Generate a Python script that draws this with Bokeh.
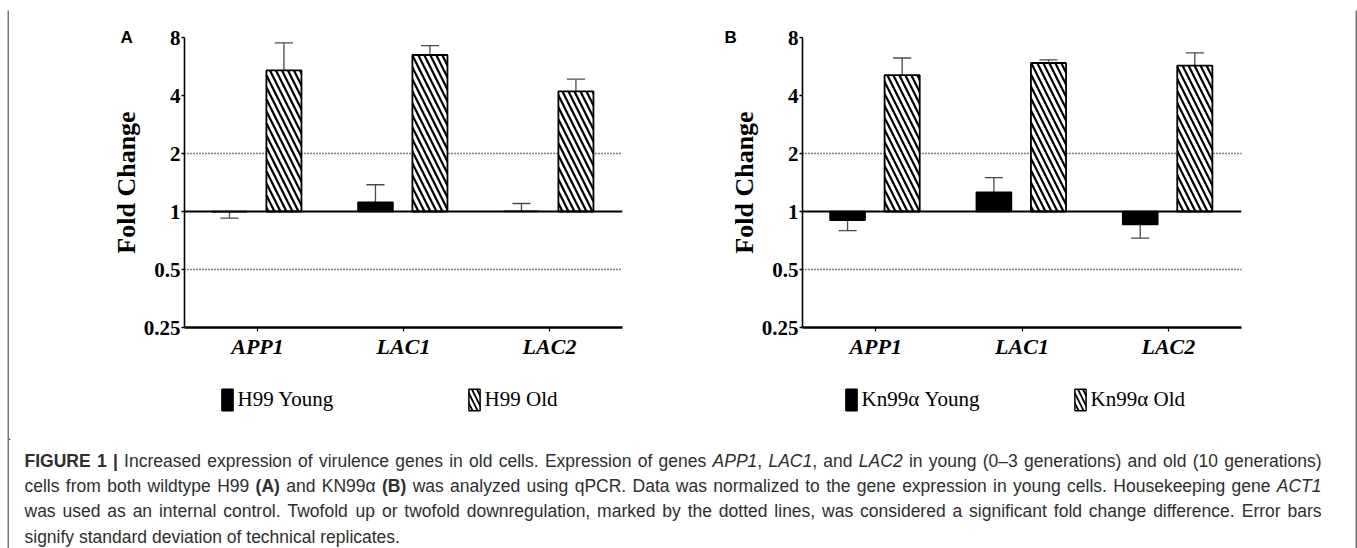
from bokeh.plotting import figure
from bokeh.models import (ColumnDataSource, FactorRange, Range1d, Span, Legend,
                          LegendItem, FixedTicker, CustomJSTickFormatter, Spacer)
from bokeh.transform import dodge
from bokeh.layouts import row, column
from bokeh.core.properties import value
from bokeh.embed import file_html
from bokeh.resources import INLINE

# ---------------- data ----------------
genes = ["APP1", "LAC1", "LAC2"]

h99_young = [0.997, 1.117, 1.003]
h99_young_sd = [0.073, 0.26, 0.097]
h99_old = [5.4, 6.49, 4.2]
h99_old_sd = [2.1, 0.77, 0.66]

kn_young = [0.90, 1.258, 0.857]
kn_young_sd = [0.105, 0.242, 0.129]
kn_old = [5.1, 5.9, 5.72]
kn_old_sd = [1.16, 0.23, 0.93]

tick_values = [0.25, 0.5, 1, 2, 4, 8]
tick_labels = ["0.25", "0.5", "1", "2", "4", "8"]
baseline = 1
thresholds = [2, 0.5]

y_title = "Fold Change"
legend_a = ["H99 Young", "H99 Old"]
legend_b = ["Kn99\u03b1 Young", "Kn99\u03b1 Old"]

caption_lines = [
    [("FIGURE 1 |", "bold"),
     (" Increased expression of virulence genes in old cells. Expression of genes ", "normal"),
     ("APP1", "italic"), (", ", "normal"), ("LAC1", "italic"), (", and ", "normal"),
     ("LAC2", "italic"), (" in young (0\u20133 generations) and old (10 generations)", "normal")],
    [("cells from both wildtype H99 ", "normal"), ("(A)", "bold"), (" and KN99\u03b1 ", "normal"),
     ("(B)", "bold"),
     (" was analyzed using qPCR. Data was normalized to the gene expression in young cells. Housekeeping gene ", "normal"),
     ("ACT1", "italic")],
    [("was used as an internal control. Twofold up or twofold downregulation, marked by the dotted lines, was considered a significant fold change difference. Error bars", "normal")],
    [("signify standard deviation of technical replicates.", "normal")],
]

# ---------------- styling / layout ----------------
SERIF = "Liberation Serif"
SANS = "Liberation Sans"
FRAME_GRAY = "#767676"
ERR_COLOR = "#4a4a4a"
YOUNG_OFF = -0.192
OLD_OFF = 0.181
BAR_W = 0.24
CAP_HALF = 0.062
HATCH_SCALE = 12
HATCH_WEIGHT = 2.2

TOTAL_W = 1357
TOTAL_H = 548
TOP_GAP = 10        # white space above the outer frame line
LEFT_GAP = 7        # white space left of the outer frame line
FRAME_T = 2         # frame line thickness
INNER_X = LEFT_GAP + FRAME_T          # 9
INNER_W = TOTAL_W - INNER_X - FRAME_T  # 1346
INNER_H = TOTAL_H - TOP_GAP - FRAME_T  # 536
ROW_H = 358         # chart row (y 12..370)
LEG_H = 70          # legend row (y 370..440)
CAP_H = INNER_H - ROW_H - LEG_H  # caption row (y 440..548)


def blank(width, height, fill="white"):
    p = figure(width=width, height=height, x_range=Range1d(0, width),
               y_range=Range1d(0, height), min_border=0, min_border_left=0,
               min_border_right=0, min_border_top=0, min_border_bottom=0,
               output_backend="svg", toolbar_location=None, tools="",
               x_axis_location=None, y_axis_location=None, frame_align=False)
    p.xgrid.visible = False
    p.ygrid.visible = False
    p.outline_line_color = None
    p.background_fill_color = fill
    p.border_fill_color = fill
    return p


def make_panel(letter, young, young_sd, old, old_sd, width, bl, br, letter_offset):
    young_end = [v + s if v >= baseline else v - s for v, s in zip(young, young_sd)]
    old_end = [v + s if v >= baseline else v - s for v, s in zip(old, old_sd)]
    src = ColumnDataSource(dict(gene=genes, young=young, old=old,
                                young_end=young_end, old_end=old_end))
    p = figure(x_range=FactorRange(factors=genes),
               y_range=Range1d(tick_values[0], tick_values[-1]),
               y_axis_type="log", width=width, height=ROW_H,
               min_border_left=bl, min_border_right=br, min_border_top=25,
               min_border_bottom=43,
               output_backend="svg", toolbar_location=None, tools="")
    p.xgrid.visible = False
    p.ygrid.visible = False
    p.outline_line_color = None
    p.background_fill_color = "white"
    p.border_fill_color = "white"

    # panel letter as the plot title, pulled left of the frame and down to its top edge
    p.title.text = letter
    p.title.align = "left"
    p.title.offset = letter_offset
    p.title.vertical_align = "bottom"
    p.title.standoff = -19
    p.title.text_font = SANS
    p.title.text_font_style = "bold"
    p.title.text_font_size = "17px"
    p.title.text_color = "black"

    for t in thresholds:
        p.add_layout(Span(location=t, dimension="width", line_color="black",
                          line_width=1.5, line_dash="1 2", level="underlay"))

    rng = p.x_range
    yx = dodge("gene", YOUNG_OFF, range=rng)
    ox = dodge("gene", OLD_OFF, range=rng)
    for off, xs, vcol, ecol in [(YOUNG_OFF, yx, "young", "young_end"),
                                (OLD_OFF, ox, "old", "old_end")]:
        p.segment(x0=xs, x1=xs, y0=vcol, y1=ecol, source=src,
                  line_color=ERR_COLOR, line_width=1.3)
        p.segment(x0=dodge("gene", off - CAP_HALF, range=rng),
                  x1=dodge("gene", off + CAP_HALF, range=rng),
                  y0=ecol, y1=ecol, source=src,
                  line_color=ERR_COLOR, line_width=1.3)
    p.vbar(x=yx, top="young", bottom=baseline, width=BAR_W, source=src,
           fill_color="black", line_color="black", line_width=1.5)
    p.vbar(x=ox, top="old", bottom=baseline, width=BAR_W, source=src,
           fill_color="white", line_color="black", line_width=1.8,
           hatch_pattern="\\", hatch_color="black", hatch_weight=HATCH_WEIGHT,
           hatch_scale=HATCH_SCALE)
    p.add_layout(Span(location=baseline, dimension="width", line_color="black",
                      line_width=2.2))

    ya = p.yaxis[0]
    ya.ticker = FixedTicker(ticks=tick_values)
    ya.formatter = CustomJSTickFormatter(
        args=dict(vals=tick_values, labs=tick_labels),
        code="const i = vals.indexOf(tick); return i >= 0 ? labs[i] : '';")
    ya.minor_tick_line_color = None
    ya.major_tick_out = 3
    ya.major_tick_in = 0
    ya.major_tick_line_width = 1.5
    ya.axis_line_width = 1.6
    ya.axis_line_color = "black"
    ya.major_label_text_font = SERIF
    ya.major_label_text_font_style = "bold"
    ya.major_label_text_font_size = "21px"
    ya.major_label_text_color = "black"
    ya.major_label_standoff = 1
    ya.axis_label = y_title
    ya.axis_label_text_font = SERIF
    ya.axis_label_text_font_style = "bold"
    ya.axis_label_text_font_size = "26px"
    ya.axis_label_text_color = "black"
    ya.axis_label_standoff = 0

    xa = p.xaxis[0]
    xa.axis_line_width = 2.5
    xa.axis_line_color = "black"
    xa.major_tick_out = 4
    xa.major_tick_in = 0
    xa.major_tick_line_width = 1.2
    xa.minor_tick_line_color = None
    xa.major_label_text_font = SERIF
    xa.major_label_text_font_style = "bold italic"
    xa.major_label_text_font_size = "22px"
    xa.major_label_text_color = "black"
    xa.major_label_standoff = 2
    return p


# chart row (panel A: x 9..672, panel B: x 672..1355)
pA = make_panel("A", h99_young, h99_young_sd, h99_old, h99_old_sd,
                672 - INNER_X, 184 - INNER_X, 50, -64)
pB = make_panel("B", kn_young, kn_young_sd, kn_old, kn_old_sd,
                INNER_W - (672 - INNER_X), 130, INNER_W - (672 - INNER_X) - 130 - 439, -78)

# legend row (swatch renderers sit outside the visible range; only the legend shows them)
pLeg = blank(INNER_W, LEG_H)
sw_young = pLeg.vbar(x=[-500], top=[1], bottom=[0], width=1, fill_color="black",
                     line_color="black", line_width=1.5)
sw_old = pLeg.vbar(x=[-500], top=[1], bottom=[0], width=1, fill_color="white",
                   line_color="black", line_width=1.5, hatch_pattern="\\",
                   hatch_color="black", hatch_weight=1.8, hatch_scale=10)
leg_pos = [(legend_a[0], sw_young, 219.6), (legend_a[1], sw_old, 466.6),
           (legend_b[0], sw_young, 843.6), (legend_b[1], sw_old, 1072.6)]
for lbl, r, gx in leg_pos:
    lg = Legend(items=[LegendItem(label=lbl, renderers=[r])],
                location=(gx - INNER_X, 440 - 412.5), orientation="horizontal",
                glyph_width=14, glyph_height=27, label_standoff=4,
                padding=0, margin=0, spacing=0,
                border_line_color=None, background_fill_alpha=0,
                label_text_font=SERIF, label_text_font_size="21px",
                label_text_color="black")
    pLeg.add_layout(lg, "center")

# ---------------- caption ----------------
REG = dict(zip("abcdefghijklmnopqrstuvwxyz",
               [556, 556, 500, 556, 556, 278, 556, 556, 222, 222, 500, 222, 833,
                556, 556, 556, 556, 333, 500, 278, 556, 500, 722, 500, 500, 500]))
REG.update(zip("ABCDEFGHIJKLMNOPQRSTUVWXYZ",
               [667, 667, 722, 722, 667, 611, 778, 722, 278, 500, 667, 556, 833,
                722, 778, 667, 778, 722, 667, 611, 722, 667, 944, 667, 667, 611]))
REG.update({c: 556 for c in "0123456789"})
REG.update({" ": 278, ".": 278, ",": 278, "(": 333, ")": 333, "\u2013": 556,
            "|": 260, "-": 333, "\u03b1": 578})
BOLD = dict(zip("abcdefghijklmnopqrstuvwxyz",
                [556, 611, 556, 611, 556, 333, 611, 611, 278, 278, 556, 278, 889,
                 611, 611, 611, 611, 389, 556, 333, 611, 556, 778, 556, 556, 500]))
BOLD.update(zip("ABCDEFGHIJKLMNOPQRSTUVWXYZ",
                [722, 722, 722, 722, 667, 611, 778, 722, 278, 556, 722, 611, 833,
                 722, 778, 667, 778, 722, 667, 611, 722, 667, 944, 667, 667, 611]))
BOLD.update({c: 556 for c in "0123456789"})
BOLD.update({" ": 278, ".": 278, ",": 278, "(": 333, ")": 333, "|": 280})

CAP_FS = 17.5
CAP_X0 = 24 - INNER_X
CAP_X1 = 1321 - INNER_X
CAP_Y = [20, 45, 70, 96]


def tw(text, style):
    tab = BOLD if style == "bold" else REG
    return sum(tab.get(ch, 556) for ch in text) * CAP_FS / 1000.0


cap_items = {"normal": dict(x=[], y=[], text=[]),
             "bold": dict(x=[], y=[], text=[]),
             "italic": dict(x=[], y=[], text=[])}
for li, segs in enumerate(caption_lines):
    toks = []
    for text, style in segs:
        buf = ""
        for ch in text:
            if ch == " ":
                if buf:
                    toks.append(("w", buf, style))
                    buf = ""
                toks.append(("s", " ", style))
            else:
                buf += ch
        if buf:
            toks.append(("w", buf, style))
    natural = sum(tw(t, s) for _, t, s in toks)
    nsp = sum(1 for k, _, _ in toks if k == "s")
    extra = (CAP_X1 - CAP_X0 - natural) / nsp if (li < len(caption_lines) - 1 and nsp) else 0
    x = CAP_X0
    for k, t, s in toks:
        if k == "s":
            x += tw(t, s) + extra
        else:
            d = cap_items[s]
            d["x"].append(x)
            d["y"].append(CAP_H - CAP_Y[li])
            d["text"].append(t)
            x += tw(t, s)

pC = blank(INNER_W, CAP_H)
for style, d in cap_items.items():
    pC.text(x="x", y="y", text="text", source=ColumnDataSource(d),
            text_font=value(SANS), text_font_style=style,
            text_font_size="%.1fpx" % CAP_FS, text_color="#2e2e2e",
            text_align="left", text_baseline="middle")

# ---------------- outer frame (left, top, right gray strips) ----------------
inner = column(row(pA, pB), pLeg, pC)
framed = row(
    Spacer(width=LEFT_GAP, height=TOTAL_H - TOP_GAP),
    blank(FRAME_T, TOTAL_H - TOP_GAP, fill=FRAME_GRAY),
    column(blank(INNER_W, FRAME_T, fill=FRAME_GRAY), inner),
    blank(FRAME_T, TOTAL_H - TOP_GAP, fill=FRAME_GRAY),
)
layout = column(Spacer(width=TOTAL_W, height=TOP_GAP), framed)
open("out.html", "w").write(file_html(layout, INLINE))
